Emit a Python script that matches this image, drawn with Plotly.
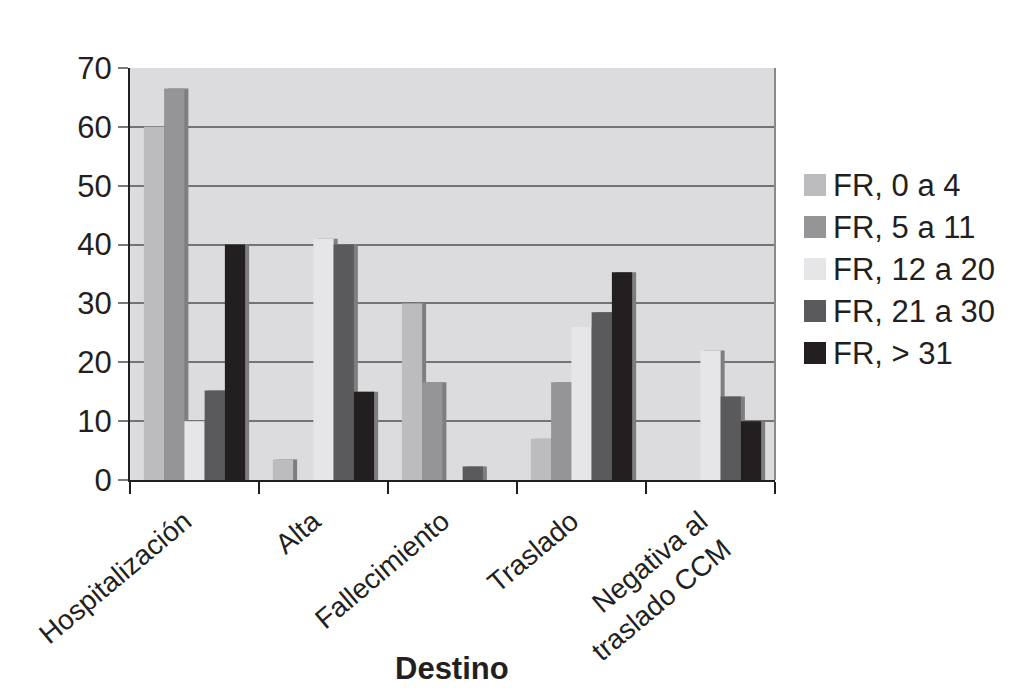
import plotly.graph_objects as go

categories = ["Hospitalización", "Alta", "Fallecimiento", "Traslado", "Negativa al<br>traslado CCM"]
series_names = ["FR, 0 a 4", "FR, 5 a 11", "FR, 12 a 20", "FR, 21 a 30", "FR, > 31"]
fr_0_4 = [60, 3.5, 30, 7, 0]
fr_5_11 = [66.5, 0, 16.6, 16.6, 0]
fr_12_20 = [10, 41, 0, 26, 22]
fr_21_30 = [15.2, 40, 2.3, 28.5, 14.2]
fr_31 = [40, 15, 0, 35.3, 10]
series_values = [fr_0_4, fr_5_11, fr_12_20, fr_21_30, fr_31]
colors = ["#bcbcbe", "#959597", "#e6e6e8", "#5a5a5c", "#231f20"]
shadow_color = "#7e7e80"
y_ticks = [0, 10, 20, 30, 40, 50, 60, 70]

W, H = 1029, 700
OFF = 8  # page body margin
L, R, T, B = 130 - OFF, 775 - OFF, 68 - OFF, 480 - OFF  # plot area in figure pixels

bar_w = 0.157
group_w = bar_w * 5
shadow_dx = 0.031

fig = go.Figure()
for i, (name, vals, col) in enumerate(zip(series_names, series_values, colors)):
    off = -group_w / 2 + i * bar_w
    fig.add_trace(go.Bar(
        x=categories, y=vals, name=name + " sombra", offset=off + shadow_dx, width=bar_w,
        marker=dict(color=shadow_color, line=dict(width=0)), showlegend=False, hoverinfo="skip"))
    fig.add_trace(go.Bar(
        x=categories, y=vals, name=name, offset=off, width=bar_w,
        marker=dict(color=col, line=dict(width=0)), showlegend=False))

font_family = "Liberation Sans, Arial, Helvetica, sans-serif"

def px_to_paper_x(px):
    return (px - OFF - L) / (R - L)

def px_to_paper_y(py):
    return (B - (py - OFF)) / (B - T)

shapes = [
    dict(type="line", xref="paper", yref="paper", x0=1, x1=1, y0=0, y1=1,
         line=dict(color="#8a8a8c", width=2)),
]
annotations = []
legend_y = [185, 227, 269, 311, 353]
for name, col, cy in zip(series_names, colors, legend_y):
    shapes.append(dict(type="rect", xref="paper", yref="paper",
                       x0=px_to_paper_x(804), x1=px_to_paper_x(826),
                       y0=px_to_paper_y(cy + 11), y1=px_to_paper_y(cy - 11),
                       fillcolor=col, line=dict(width=0)))
    annotations.append(dict(xref="paper", yref="paper", x=px_to_paper_x(831), y=px_to_paper_y(cy),
                            text=name, showarrow=False, xanchor="left", yanchor="middle",
                            font=dict(size=31, color="#231f20", family=font_family)))

annotations.append(dict(xref="paper", yref="paper", x=px_to_paper_x(452), y=px_to_paper_y(668),
                        text="<b>Destino</b>", showarrow=False, xanchor="center", yanchor="middle",
                        font=dict(size=31, color="#231f20", family=font_family)))

fig.update_layout(
    width=W, height=H,
    margin=dict(l=L, r=W - R, t=T, b=H - B, pad=0),
    paper_bgcolor="white",
    plot_bgcolor="#dcdcde",
    barmode="overlay",
    showlegend=False,
    font=dict(family=font_family, color="#231f20"),
    shapes=shapes,
    annotations=annotations,
    xaxis=dict(
        type="category", tickson="boundaries", ticks="outside", ticklen=12, tickwidth=2,
        tickcolor="#231f20", showline=True, linecolor="#231f20", linewidth=2,
        tickangle=-40, tickfont=dict(size=28, color="#231f20", family=font_family),
        ticklabelstandoff=12, ticklabelshift=-10,
        showgrid=False, range=[-0.5, 4.5],
    ),
    yaxis=dict(
        range=[0, 70], tickvals=y_ticks, ticks="outside", ticklen=10, tickwidth=2,
        tickcolor="#7a7a7c", showline=True, linecolor="#231f20", linewidth=2,
        showgrid=True, gridcolor="#747476", gridwidth=2, zeroline=False,
        tickfont=dict(size=31, color="#231f20", family=font_family),
    ),
)

fig.write_html("out.html")
